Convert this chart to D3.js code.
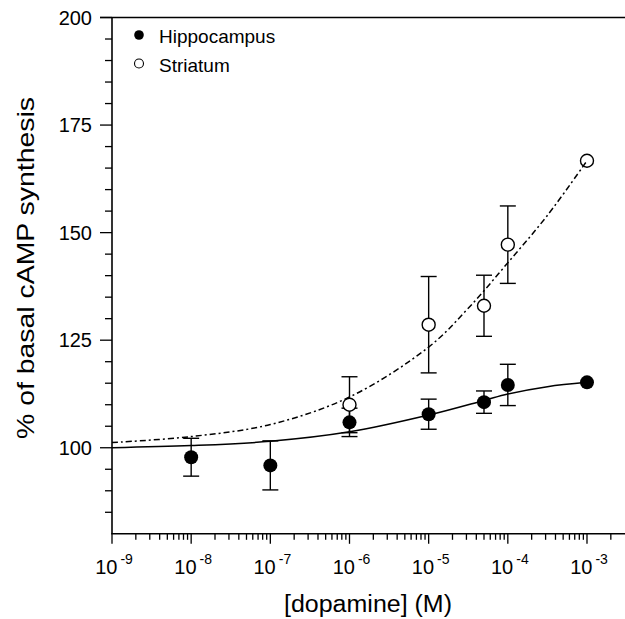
<!DOCTYPE html>
<html>
<head>
<meta charset="utf-8">
<script src="https://cdn.jsdelivr.net/npm/d3@7"></script>
<style>
  html, body { margin: 0; padding: 0; background: #fff; }
  svg { display: block; font-family: "Liberation Sans", Arial, sans-serif; }
</style>
</head>
<body>
<svg id="chart" width="625" height="619"></svg>
<script>
// ---- data ----
const concentrations = [1e-8, 1e-7, 1e-6, 1e-5, 5e-5, 1e-4, 1e-3];
const hippoMean = [97.8, 95.9, 105.9, 107.8, 110.6, 114.6, 115.2];
const hippoErr  = [4.4, 5.7, 3.3, 3.5, 2.6, 4.8, 0];

const striatumConc = [1e-6, 1e-5, 5e-5, 1e-4, 1e-3];
const striatumMean = [110.0, 128.6, 133.0, 147.2, 166.7];
const striatumErr  = [6.5, 11.2, 7.1, 9.0, 0];

// fitted curves
const hippoFitX = [1e-9, 1e-8, 1e-7, 1e-6, 1e-5, 5e-5, 1e-4, 3.16e-4, 1e-3];
const hippoFitY = [100.0, 100.5, 101.5, 103.7, 107.6, 111.0, 112.5, 114.2, 115.2];
const striatumFitX = [1e-9, 1e-8, 1e-7, 1e-6, 1e-5, 3.16e-5, 1e-4, 3.16e-4, 1e-3];
const striatumFitY = [101.2, 102.6, 105.4, 111.8, 123.4, 132.4, 143.0, 154.0, 166.7];

const yTicksMajor = [100, 125, 150, 175, 200];
const yTicksMinor = [85, 90, 95, 105, 110, 115, 120, 130, 135, 140, 145, 155, 160, 165, 170, 180, 185, 190, 195];
const xDecades = [-9, -8, -7, -6, -5, -4, -3];

const legendItems = ["Hippocampus", "Striatum"];
const xTitle = "[dopamine] (M)";
const yTitle = "% of basal cAMP synthesis";

// ---- scales ----
const svg = d3.select("#chart");
const x = d3.scaleLog().domain([1e-9, Math.pow(10, -2.53)]).range([112, 624.2]);
const y = d3.scaleLinear().domain([80, 200]).range([533.8, 17.5]);

// ---- axes ----
const g = svg.append("g");
g.append("line").attr("x1", 100).attr("x2", 625).attr("y1", y(200)).attr("y2", y(200))
  .attr("stroke", "#000").attr("stroke-width", 1.6);
g.append("line").attr("x1", x(1e-9)).attr("x2", x(1e-9)).attr("y1", y(200)).attr("y2", y(80))
  .attr("stroke", "#000").attr("stroke-width", 1.6);
g.append("line").attr("x1", x(1e-9) - 0.8).attr("x2", 625).attr("y1", y(80)).attr("y2", y(80))
  .attr("stroke", "#000").attr("stroke-width", 1.6);

g.selectAll(".ymaj").data(yTicksMajor).join("line")
  .attr("x1", x(1e-9) - 12).attr("x2", x(1e-9)).attr("y1", d => y(d)).attr("y2", d => y(d))
  .attr("stroke", "#000").attr("stroke-width", 1.3);
g.selectAll(".ymin").data(yTicksMinor).join("line")
  .attr("x1", x(1e-9) - 7).attr("x2", x(1e-9)).attr("y1", d => y(d)).attr("y2", d => y(d))
  .attr("stroke", "#000").attr("stroke-width", 1.3);
g.selectAll(".ylab").data(yTicksMajor).join("text")
  .attr("x", 92).attr("y", d => y(d)).attr("dy", "0.36em")
  .attr("text-anchor", "end").attr("font-size", 20).text(d => d);

const xMinor = [];
xDecades.forEach(e => { for (let k = 2; k <= 9; k++) { const v = k * Math.pow(10, e); if (x(v) <= 623) xMinor.push(v); } });
g.selectAll(".xmaj").data(xDecades).join("line")
  .attr("x1", d => x(Math.pow(10, d))).attr("x2", d => x(Math.pow(10, d)))
  .attr("y1", y(80)).attr("y2", y(80) + 10)
  .attr("stroke", "#000").attr("stroke-width", 1.3);
g.selectAll(".xmin").data(xMinor).join("line")
  .attr("x1", d => x(d)).attr("x2", d => x(d))
  .attr("y1", y(80)).attr("y2", y(80) + 6)
  .attr("stroke", "#000").attr("stroke-width", 1.3);
const xl = g.selectAll(".xlab").data(xDecades).join("text")
  .attr("x", d => x(Math.pow(10, d)) + 2).attr("y", 574)
  .attr("text-anchor", "middle").attr("font-size", 20);
xl.append("tspan").text("10");
xl.append("tspan").attr("dx", 3).attr("dy", -10).attr("font-size", 14).text(d => String(d));

svg.append("text").attr("x", 368).attr("y", 612).attr("text-anchor", "middle")
  .attr("font-size", 23).attr("textLength", 168).attr("lengthAdjust", "spacingAndGlyphs").text(xTitle);
svg.append("text").attr("transform", "translate(34,268) rotate(-90)").attr("text-anchor", "middle")
  .attr("font-size", 24).attr("textLength", 342).attr("lengthAdjust", "spacingAndGlyphs").text(yTitle);

// ---- error bars ----
function errorBars(cls, xs, means, errs) {
  const d = xs.map((c, i) => ({ c, m: means[i], e: errs[i] })).filter(p => p.e > 0);
  const eg = svg.append("g").attr("class", cls).attr("stroke", "#000").attr("stroke-width", 1.4);
  eg.selectAll(".v").data(d).join("line")
    .attr("x1", p => x(p.c)).attr("x2", p => x(p.c))
    .attr("y1", p => y(p.m - p.e)).attr("y2", p => y(p.m + p.e));
  eg.selectAll(".t").data(d).join("line")
    .attr("x1", p => x(p.c) - 8).attr("x2", p => x(p.c) + 8)
    .attr("y1", p => y(p.m + p.e)).attr("y2", p => y(p.m + p.e));
  eg.selectAll(".b").data(d).join("line")
    .attr("x1", p => x(p.c) - 8).attr("x2", p => x(p.c) + 8)
    .attr("y1", p => y(p.m - p.e)).attr("y2", p => y(p.m - p.e));
}
errorBars("hErr", concentrations, hippoMean, hippoErr);
errorBars("sErr", striatumConc, striatumMean, striatumErr);

// ---- markers ----
svg.append("g").selectAll("circle").data(striatumConc).join("circle")
  .attr("cx", d => x(d)).attr("cy", (d, i) => y(striatumMean[i])).attr("r", 6.5)
  .attr("fill", "#fff").attr("stroke", "#000").attr("stroke-width", 1.4);
svg.append("g").selectAll("circle").data(concentrations).join("circle")
  .attr("cx", d => x(d)).attr("cy", (d, i) => y(hippoMean[i])).attr("r", 7)
  .attr("fill", "#000");

// ---- fitted curves ----
const line = d3.line().x(d => x(d[0])).y(d => y(d[1])).curve(d3.curveCatmullRom.alpha(0.5));
svg.append("path").datum(hippoFitX.map((v, i) => [v, hippoFitY[i]]))
  .attr("d", line).attr("fill", "none").attr("stroke", "#000").attr("stroke-width", 1.5);
svg.append("path").datum(striatumFitX.map((v, i) => [v, striatumFitY[i]]))
  .attr("d", line).attr("fill", "none").attr("stroke", "#000").attr("stroke-width", 1.5)
  .attr("stroke-dasharray", "6,3,2,3");

// ---- legend ----
const lg = svg.append("g");
lg.append("circle").attr("cx", 139).attr("cy", 35).attr("r", 4.8).attr("fill", "#000");
lg.append("circle").attr("cx", 139).attr("cy", 63.5).attr("r", 4.5).attr("fill", "#fff")
  .attr("stroke", "#000").attr("stroke-width", 1.1);
lg.selectAll("text").data(legendItems).join("text")
  .attr("x", 159).attr("y", (d, i) => 42.5 + i * 29).attr("font-size", 19).text(d => d);
</script>
</body>
</html>
